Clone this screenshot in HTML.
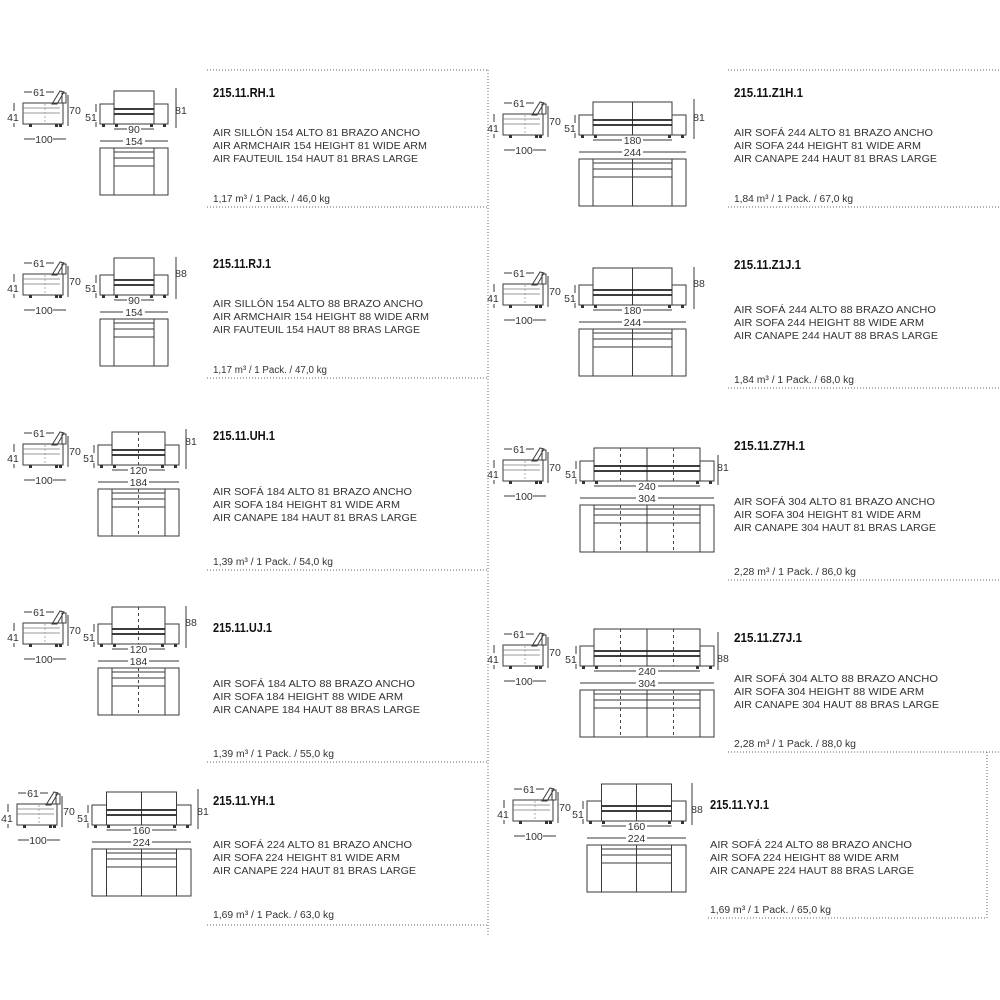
<!DOCTYPE html>
<html><head><meta charset="utf-8"><style>
html,body{margin:0;padding:0;background:#fff}
svg{display:block}
.l{stroke:#3a3a3a;stroke-width:1;fill:none}
.b{stroke:#222;stroke-width:1.7}
.d{stroke:#666;stroke-width:1;stroke-dasharray:1 2;fill:none}
.ds{stroke:#444;stroke-width:1;stroke-dasharray:3 3}
.n{font-family:"Liberation Sans",sans-serif;font-size:10.5px;fill:#333;text-anchor:middle}
.t{font-family:"Liberation Sans",sans-serif;font-size:13px;font-weight:bold;fill:#111}
.x{font-family:"Liberation Sans",sans-serif;font-size:10.5px;fill:#333}
.w{font-family:"Liberation Sans",sans-serif;font-size:10px;fill:#333}
.f{fill:#333}
</style></head><body>
<svg width="1000" height="1000" viewBox="0 0 1000 1000" xmlns="http://www.w3.org/2000/svg">
<defs>
<g id="sv">
<rect class="l" x="23" y="11" width="40" height="21"/>
<line x1="23" y1="16" x2="60" y2="16" stroke="#777" stroke-width="0.8"/>
<line x1="23" y1="21" x2="60" y2="21" stroke="#777" stroke-width="0.8"/>
<line x1="45" y1="12" x2="45" y2="31" stroke="#999" stroke-width="0.8" stroke-dasharray="2 2"/>
<polygon class="l" points="52,12 60,-1 64,0 57,12"/>
<rect class="l" x="62" y="1" width="4" height="10"/>
<rect class="f" x="29" y="32" width="3" height="3"/>
<rect class="f" x="55" y="32" width="3" height="3"/>
<rect class="f" x="59" y="32" width="3" height="3"/>
<line class="l" x1="24" y1="0" x2="32" y2="0"/><line class="l" x1="46" y1="0" x2="54" y2="0"/>
<line class="l" x1="14" y1="11" x2="14" y2="19"/><line class="l" x1="14" y1="31" x2="14" y2="35"/>
<line class="l" x1="68" y1="3" x2="68" y2="34"/>
<line class="l" x1="24" y1="47" x2="35" y2="47"/><line class="l" x1="53" y1="47" x2="66" y2="47"/>
</g>
</defs>

<!-- dotted frame lines -->
<line class="d" x1="207" y1="70" x2="488" y2="70"/>
<line class="d" x1="488" y1="70" x2="488" y2="935"/>
<line class="d" x1="207" y1="207" x2="488" y2="207"/>
<line class="d" x1="207" y1="378" x2="488" y2="378"/>
<line class="d" x1="207" y1="570" x2="488" y2="570"/>
<line class="d" x1="207" y1="762" x2="488" y2="762"/>
<line class="d" x1="207" y1="925" x2="488" y2="925"/>
<line class="d" x1="728" y1="70" x2="1000" y2="70"/>
<line class="d" x1="728" y1="207" x2="1000" y2="207"/>
<line class="d" x1="728" y1="388" x2="1000" y2="388"/>
<line class="d" x1="728" y1="580" x2="1000" y2="580"/>
<line class="d" x1="728" y1="752" x2="1000" y2="752"/>
<line class="d" x1="987" y1="752" x2="987" y2="918"/>
<line class="d" x1="708" y1="918" x2="987" y2="918"/>

<!-- ===== RH ===== -->
<g transform="translate(0,92)">
<use href="#sv"/>
<text class="n" x="39" y="4">61</text><text class="n" x="13" y="29">41</text><text class="n" x="75" y="22">70</text><text class="n" x="44" y="51">100</text>
<rect class="l" x="100" y="12" width="14" height="20"/><rect class="l" x="154" y="12" width="14" height="20"/>
<rect class="l" x="114" y="-1" width="40" height="33"/>
<line class="b" x1="114" y1="17" x2="154" y2="17"/><line class="b" x1="114" y1="22" x2="154" y2="22"/>
<rect class="f" x="102" y="32" width="3" height="3"/><rect class="f" x="115" y="32" width="3" height="3"/><rect class="f" x="150" y="32" width="3" height="3"/><rect class="f" x="163" y="32" width="3" height="3"/>
<line class="l" x1="96" y1="12" x2="96" y2="20"/><line class="l" x1="96" y1="30" x2="96" y2="35"/><text class="n" x="91" y="29">51</text>
<line class="l" x1="176" y1="-4" x2="176" y2="36"/><text class="n" x="181" y="22">81</text>
<line class="l" x1="114" y1="37" x2="127" y2="37"/><line class="l" x1="141" y1="37" x2="154" y2="37"/><text class="n" x="134" y="41">90</text>
<line class="l" x1="100" y1="49" x2="123" y2="49"/><line class="l" x1="145" y1="49" x2="168" y2="49"/><text class="n" x="134" y="53">154</text>
<rect class="l" x="100" y="56" width="68" height="47"/>
<line class="l" x1="114" y1="56" x2="114" y2="103"/><line class="l" x1="154" y1="56" x2="154" y2="103"/>
<line class="l" x1="114" y1="60" x2="154" y2="60"/><line class="l" x1="114" y1="66" x2="154" y2="66"/><line class="l" x1="114" y1="74" x2="154" y2="74"/>
</g>
<text class="t" x="213" y="97" textLength="62" lengthAdjust="spacingAndGlyphs">215.11.RH.1</text>
<text class="x" x="213" y="136" textLength="207" lengthAdjust="spacingAndGlyphs">AIR SILLÓN 154 ALTO 81 BRAZO ANCHO</text>
<text class="x" x="213" y="149" textLength="214" lengthAdjust="spacingAndGlyphs">AIR ARMCHAIR 154 HEIGHT 81 WIDE ARM</text>
<text class="x" x="213" y="162" textLength="205" lengthAdjust="spacingAndGlyphs">AIR FAUTEUIL 154 HAUT 81 BRAS LARGE</text>
<text class="w" x="213" y="202" textLength="117" lengthAdjust="spacingAndGlyphs">1,17 m³ / 1 Pack. / 46,0 kg</text>

<!-- ===== RJ ===== -->
<g transform="translate(0,263)">
<use href="#sv"/>
<text class="n" x="39" y="4">61</text><text class="n" x="13" y="29">41</text><text class="n" x="75" y="22">70</text><text class="n" x="44" y="51">100</text>
<rect class="l" x="100" y="12" width="14" height="20"/><rect class="l" x="154" y="12" width="14" height="20"/>
<rect class="l" x="114" y="-5" width="40" height="37"/>
<line class="b" x1="114" y1="17" x2="154" y2="17"/><line class="b" x1="114" y1="22" x2="154" y2="22"/>
<rect class="f" x="102" y="32" width="3" height="3"/><rect class="f" x="115" y="32" width="3" height="3"/><rect class="f" x="150" y="32" width="3" height="3"/><rect class="f" x="163" y="32" width="3" height="3"/>
<line class="l" x1="96" y1="12" x2="96" y2="20"/><line class="l" x1="96" y1="30" x2="96" y2="35"/><text class="n" x="91" y="29">51</text>
<line class="l" x1="176" y1="-6" x2="176" y2="36"/><text class="n" x="181" y="14">88</text>
<line class="l" x1="114" y1="37" x2="127" y2="37"/><line class="l" x1="141" y1="37" x2="154" y2="37"/><text class="n" x="134" y="41">90</text>
<line class="l" x1="100" y1="49" x2="123" y2="49"/><line class="l" x1="145" y1="49" x2="168" y2="49"/><text class="n" x="134" y="53">154</text>
<rect class="l" x="100" y="56" width="68" height="47"/>
<line class="l" x1="114" y1="56" x2="114" y2="103"/><line class="l" x1="154" y1="56" x2="154" y2="103"/>
<line class="l" x1="114" y1="60" x2="154" y2="60"/><line class="l" x1="114" y1="66" x2="154" y2="66"/><line class="l" x1="114" y1="74" x2="154" y2="74"/>
</g>
<text class="t" x="213" y="268" textLength="58" lengthAdjust="spacingAndGlyphs">215.11.RJ.1</text>
<text class="x" x="213" y="307" textLength="210" lengthAdjust="spacingAndGlyphs">AIR SILLÓN 154 ALTO 88 BRAZO ANCHO</text>
<text class="x" x="213" y="320" textLength="216" lengthAdjust="spacingAndGlyphs">AIR ARMCHAIR 154 HEIGHT 88 WIDE ARM</text>
<text class="x" x="213" y="333" textLength="207" lengthAdjust="spacingAndGlyphs">AIR FAUTEUIL 154 HAUT 88 BRAS LARGE</text>
<text class="w" x="213" y="373" textLength="114" lengthAdjust="spacingAndGlyphs">1,17 m³ / 1 Pack. / 47,0 kg</text>

<!-- ===== UH ===== -->
<g transform="translate(0,433)">
<use href="#sv"/>
<text class="n" x="39" y="4">61</text><text class="n" x="13" y="29">41</text><text class="n" x="75" y="22">70</text><text class="n" x="44" y="51">100</text>
<rect class="l" x="98" y="12" width="14" height="20"/><rect class="l" x="165" y="12" width="14" height="20"/>
<rect class="l" x="112" y="-1" width="53" height="33"/>
<line class="ds" x1="138.5" y1="-1" x2="138.5" y2="32"/>
<line class="b" x1="112" y1="17" x2="165" y2="17"/><line class="b" x1="112" y1="22" x2="165" y2="22"/>
<rect class="f" x="100" y="32" width="3" height="3"/><rect class="f" x="113" y="32" width="3" height="3"/><rect class="f" x="161" y="32" width="3" height="3"/><rect class="f" x="174" y="32" width="3" height="3"/>
<line class="l" x1="94" y1="12" x2="94" y2="20"/><line class="l" x1="94" y1="30" x2="94" y2="35"/><text class="n" x="89" y="29">51</text>
<line class="l" x1="186" y1="-4" x2="186" y2="36"/><text class="n" x="191" y="12">81</text>
<line class="l" x1="112" y1="37" x2="128" y2="37"/><line class="l" x1="149" y1="37" x2="165" y2="37"/><text class="n" x="138.5" y="41">120</text>
<line class="l" x1="98" y1="49" x2="128" y2="49"/><line class="l" x1="149" y1="49" x2="179" y2="49"/><text class="n" x="138.5" y="53">184</text>
<rect class="l" x="98" y="56" width="81" height="47"/>
<line class="l" x1="112" y1="56" x2="112" y2="103"/><line class="l" x1="165" y1="56" x2="165" y2="103"/>
<line class="ds" x1="138.5" y1="56" x2="138.5" y2="103"/>
<line class="l" x1="112" y1="60" x2="165" y2="60"/><line class="l" x1="112" y1="66" x2="165" y2="66"/><line class="l" x1="112" y1="74" x2="165" y2="74"/>
</g>
<text class="t" x="213" y="440" textLength="62" lengthAdjust="spacingAndGlyphs">215.11.UH.1</text>
<text class="x" x="213" y="495" textLength="199" lengthAdjust="spacingAndGlyphs">AIR SOFÁ 184 ALTO 81 BRAZO ANCHO</text>
<text class="x" x="213" y="508" textLength="187" lengthAdjust="spacingAndGlyphs">AIR SOFA 184 HEIGHT 81 WIDE ARM</text>
<text class="x" x="213" y="521" textLength="204" lengthAdjust="spacingAndGlyphs">AIR CANAPE 184 HAUT 81 BRAS LARGE</text>
<text class="w" x="213" y="565" textLength="120" lengthAdjust="spacingAndGlyphs">1,39 m³ / 1 Pack. / 54,0 kg</text>

<!-- ===== UJ ===== -->
<g transform="translate(0,612)">
<use href="#sv"/>
<text class="n" x="39" y="4">61</text><text class="n" x="13" y="29">41</text><text class="n" x="75" y="22">70</text><text class="n" x="44" y="51">100</text>
<rect class="l" x="98" y="12" width="14" height="20"/><rect class="l" x="165" y="12" width="14" height="20"/>
<rect class="l" x="112" y="-5" width="53" height="37"/>
<line class="ds" x1="138.5" y1="-5" x2="138.5" y2="32"/>
<line class="b" x1="112" y1="17" x2="165" y2="17"/><line class="b" x1="112" y1="22" x2="165" y2="22"/>
<rect class="f" x="100" y="32" width="3" height="3"/><rect class="f" x="113" y="32" width="3" height="3"/><rect class="f" x="161" y="32" width="3" height="3"/><rect class="f" x="174" y="32" width="3" height="3"/>
<line class="l" x1="94" y1="12" x2="94" y2="20"/><line class="l" x1="94" y1="30" x2="94" y2="35"/><text class="n" x="89" y="29">51</text>
<line class="l" x1="186" y1="-6" x2="186" y2="36"/><text class="n" x="191" y="14">88</text>
<line class="l" x1="112" y1="37" x2="128" y2="37"/><line class="l" x1="149" y1="37" x2="165" y2="37"/><text class="n" x="138.5" y="41">120</text>
<line class="l" x1="98" y1="49" x2="128" y2="49"/><line class="l" x1="149" y1="49" x2="179" y2="49"/><text class="n" x="138.5" y="53">184</text>
<rect class="l" x="98" y="56" width="81" height="47"/>
<line class="l" x1="112" y1="56" x2="112" y2="103"/><line class="l" x1="165" y1="56" x2="165" y2="103"/>
<line class="ds" x1="138.5" y1="56" x2="138.5" y2="103"/>
<line class="l" x1="112" y1="60" x2="165" y2="60"/><line class="l" x1="112" y1="66" x2="165" y2="66"/><line class="l" x1="112" y1="74" x2="165" y2="74"/>
</g>
<text class="t" x="213" y="632" textLength="59" lengthAdjust="spacingAndGlyphs">215.11.UJ.1</text>
<text class="x" x="213" y="687" textLength="202" lengthAdjust="spacingAndGlyphs">AIR SOFÁ 184 ALTO 88 BRAZO ANCHO</text>
<text class="x" x="213" y="700" textLength="190" lengthAdjust="spacingAndGlyphs">AIR SOFA 184 HEIGHT 88 WIDE ARM</text>
<text class="x" x="213" y="713" textLength="207" lengthAdjust="spacingAndGlyphs">AIR CANAPE 184 HAUT 88 BRAS LARGE</text>
<text class="w" x="213" y="757" textLength="121" lengthAdjust="spacingAndGlyphs">1,39 m³ / 1 Pack. / 55,0 kg</text>

<!-- ===== YH ===== -->
<g transform="translate(0,793)">
<use href="#sv" x="-6"/>
<text class="n" x="33" y="4">61</text><text class="n" x="7" y="29">41</text><text class="n" x="69" y="22">70</text><text class="n" x="38" y="51">100</text>
<rect class="l" x="92" y="12" width="14.5" height="20"/><rect class="l" x="176.5" y="12" width="14.5" height="20"/>
<rect class="l" x="106.5" y="-1" width="70" height="33"/>
<line class="l" x1="141.5" y1="-1" x2="141.5" y2="32"/>
<line class="b" x1="106.5" y1="17" x2="176.5" y2="17"/><line class="b" x1="106.5" y1="22" x2="176.5" y2="22"/>
<rect class="f" x="94" y="32" width="3" height="3"/><rect class="f" x="107" y="32" width="3" height="3"/><rect class="f" x="173" y="32" width="3" height="3"/><rect class="f" x="186" y="32" width="3" height="3"/>
<line class="l" x1="88" y1="12" x2="88" y2="20"/><line class="l" x1="88" y1="30" x2="88" y2="35"/><text class="n" x="83" y="29">51</text>
<line class="l" x1="198" y1="-4" x2="198" y2="36"/><text class="n" x="203" y="22">81</text>
<line class="l" x1="106.5" y1="37" x2="131" y2="37"/><line class="l" x1="152" y1="37" x2="176.5" y2="37"/><text class="n" x="141.5" y="41">160</text>
<line class="l" x1="92" y1="49" x2="131" y2="49"/><line class="l" x1="152" y1="49" x2="191" y2="49"/><text class="n" x="141.5" y="53">224</text>
<rect class="l" x="92" y="56" width="99" height="47"/>
<line class="l" x1="106.5" y1="56" x2="106.5" y2="103"/><line class="l" x1="176.5" y1="56" x2="176.5" y2="103"/>
<line class="l" x1="141.5" y1="56" x2="141.5" y2="103"/>
<line class="l" x1="106.5" y1="60" x2="176.5" y2="60"/><line class="l" x1="106.5" y1="66" x2="176.5" y2="66"/><line class="l" x1="106.5" y1="74" x2="176.5" y2="74"/>
</g>
<text class="t" x="213" y="805" textLength="62" lengthAdjust="spacingAndGlyphs">215.11.YH.1</text>
<text class="x" x="213" y="848" textLength="199" lengthAdjust="spacingAndGlyphs">AIR SOFÁ 224 ALTO 81 BRAZO ANCHO</text>
<text class="x" x="213" y="861" textLength="187" lengthAdjust="spacingAndGlyphs">AIR SOFA 224 HEIGHT 81 WIDE ARM</text>
<text class="x" x="213" y="874" textLength="203" lengthAdjust="spacingAndGlyphs">AIR CANAPE 224 HAUT 81 BRAS LARGE</text>
<text class="w" x="213" y="918" textLength="121" lengthAdjust="spacingAndGlyphs">1,69 m³ / 1 Pack. / 63,0 kg</text>

<!-- ===== Z1H ===== -->
<g transform="translate(480,103)">
<use href="#sv"/>
<text class="n" x="39" y="4">61</text><text class="n" x="13" y="29">41</text><text class="n" x="75" y="22">70</text><text class="n" x="44" y="51">100</text>
<rect class="l" x="99" y="12" width="14" height="20"/><rect class="l" x="192" y="12" width="14" height="20"/>
<rect class="l" x="113" y="-1" width="79" height="33"/>
<line class="l" x1="152.5" y1="-1" x2="152.5" y2="32"/>
<line class="b" x1="113" y1="17" x2="192" y2="17"/><line class="b" x1="113" y1="22" x2="192" y2="22"/>
<rect class="f" x="101" y="32" width="3" height="3"/><rect class="f" x="114" y="32" width="3" height="3"/><rect class="f" x="188" y="32" width="3" height="3"/><rect class="f" x="201" y="32" width="3" height="3"/>
<line class="l" x1="95" y1="12" x2="95" y2="20"/><line class="l" x1="95" y1="30" x2="95" y2="35"/><text class="n" x="90" y="29">51</text>
<line class="l" x1="214" y1="-4" x2="214" y2="36"/><text class="n" x="219" y="18">81</text>
<line class="l" x1="113" y1="37" x2="142" y2="37"/><line class="l" x1="163" y1="37" x2="192" y2="37"/><text class="n" x="152.5" y="41">180</text>
<line class="l" x1="99" y1="49" x2="142" y2="49"/><line class="l" x1="163" y1="49" x2="206" y2="49"/><text class="n" x="152.5" y="53">244</text>
<rect class="l" x="99" y="56" width="107" height="47"/>
<line class="l" x1="113" y1="56" x2="113" y2="103"/><line class="l" x1="192" y1="56" x2="192" y2="103"/>
<line class="l" x1="152.5" y1="56" x2="152.5" y2="103"/>
<line class="l" x1="113" y1="60" x2="192" y2="60"/><line class="l" x1="113" y1="66" x2="192" y2="66"/><line class="l" x1="113" y1="74" x2="192" y2="74"/>
</g>
<text class="t" x="734" y="97" textLength="69" lengthAdjust="spacingAndGlyphs">215.11.Z1H.1</text>
<text class="x" x="734" y="136" textLength="199" lengthAdjust="spacingAndGlyphs">AIR SOFÁ 244 ALTO 81 BRAZO ANCHO</text>
<text class="x" x="734" y="149" textLength="187" lengthAdjust="spacingAndGlyphs">AIR SOFA 244 HEIGHT 81 WIDE ARM</text>
<text class="x" x="734" y="162" textLength="203" lengthAdjust="spacingAndGlyphs">AIR CANAPE 244 HAUT 81 BRAS LARGE</text>
<text class="w" x="734" y="202" textLength="119" lengthAdjust="spacingAndGlyphs">1,84 m³ / 1 Pack. / 67,0 kg</text>

<!-- ===== Z1J ===== -->
<g transform="translate(480,273)">
<use href="#sv"/>
<text class="n" x="39" y="4">61</text><text class="n" x="13" y="29">41</text><text class="n" x="75" y="22">70</text><text class="n" x="44" y="51">100</text>
<rect class="l" x="99" y="12" width="14" height="20"/><rect class="l" x="192" y="12" width="14" height="20"/>
<rect class="l" x="113" y="-5" width="79" height="37"/>
<line class="l" x1="152.5" y1="-5" x2="152.5" y2="32"/>
<line class="b" x1="113" y1="17" x2="192" y2="17"/><line class="b" x1="113" y1="22" x2="192" y2="22"/>
<rect class="f" x="101" y="32" width="3" height="3"/><rect class="f" x="114" y="32" width="3" height="3"/><rect class="f" x="188" y="32" width="3" height="3"/><rect class="f" x="201" y="32" width="3" height="3"/>
<line class="l" x1="95" y1="12" x2="95" y2="20"/><line class="l" x1="95" y1="30" x2="95" y2="35"/><text class="n" x="90" y="29">51</text>
<line class="l" x1="214" y1="-6" x2="214" y2="36"/><text class="n" x="219" y="14">88</text>
<line class="l" x1="113" y1="37" x2="142" y2="37"/><line class="l" x1="163" y1="37" x2="192" y2="37"/><text class="n" x="152.5" y="41">180</text>
<line class="l" x1="99" y1="49" x2="142" y2="49"/><line class="l" x1="163" y1="49" x2="206" y2="49"/><text class="n" x="152.5" y="53">244</text>
<rect class="l" x="99" y="56" width="107" height="47"/>
<line class="l" x1="113" y1="56" x2="113" y2="103"/><line class="l" x1="192" y1="56" x2="192" y2="103"/>
<line class="l" x1="152.5" y1="56" x2="152.5" y2="103"/>
<line class="l" x1="113" y1="60" x2="192" y2="60"/><line class="l" x1="113" y1="66" x2="192" y2="66"/><line class="l" x1="113" y1="74" x2="192" y2="74"/>
</g>
<text class="t" x="734" y="269" textLength="67" lengthAdjust="spacingAndGlyphs">215.11.Z1J.1</text>
<text class="x" x="734" y="313" textLength="202" lengthAdjust="spacingAndGlyphs">AIR SOFÁ 244 ALTO 88 BRAZO ANCHO</text>
<text class="x" x="734" y="326" textLength="190" lengthAdjust="spacingAndGlyphs">AIR SOFA 244 HEIGHT 88 WIDE ARM</text>
<text class="x" x="734" y="339" textLength="204" lengthAdjust="spacingAndGlyphs">AIR CANAPE 244 HAUT 88 BRAS LARGE</text>
<text class="w" x="734" y="383" textLength="120" lengthAdjust="spacingAndGlyphs">1,84 m³ / 1 Pack. / 68,0 kg</text>

<!-- ===== Z7H ===== -->
<g transform="translate(480,449)">
<use href="#sv"/>
<text class="n" x="39" y="4">61</text><text class="n" x="13" y="29">41</text><text class="n" x="75" y="22">70</text><text class="n" x="44" y="51">100</text>
<rect class="l" x="100" y="12" width="14" height="20"/><rect class="l" x="220" y="12" width="14" height="20"/>
<rect class="l" x="114" y="-1" width="106" height="33"/>
<line class="l" x1="167" y1="-1" x2="167" y2="32"/>
<line class="ds" x1="140.5" y1="-1" x2="140.5" y2="32"/><line class="ds" x1="193.5" y1="-1" x2="193.5" y2="32"/>
<line class="b" x1="114" y1="17" x2="220" y2="17"/><line class="b" x1="114" y1="22" x2="220" y2="22"/>
<rect class="f" x="102" y="32" width="3" height="3"/><rect class="f" x="115" y="32" width="3" height="3"/><rect class="f" x="216" y="32" width="3" height="3"/><rect class="f" x="229" y="32" width="3" height="3"/>
<line class="l" x1="96" y1="12" x2="96" y2="20"/><line class="l" x1="96" y1="30" x2="96" y2="35"/><text class="n" x="91" y="29">51</text>
<line class="l" x1="238" y1="6" x2="238" y2="36"/><text class="n" x="243" y="22">81</text>
<line class="l" x1="114" y1="37" x2="156" y2="37"/><line class="l" x1="178" y1="37" x2="220" y2="37"/><text class="n" x="167" y="41">240</text>
<line class="l" x1="100" y1="49" x2="156" y2="49"/><line class="l" x1="178" y1="49" x2="234" y2="49"/><text class="n" x="167" y="53">304</text>
<rect class="l" x="100" y="56" width="134" height="47"/>
<line class="l" x1="114" y1="56" x2="114" y2="103"/><line class="l" x1="220" y1="56" x2="220" y2="103"/>
<line class="l" x1="167" y1="56" x2="167" y2="103"/>
<line class="ds" x1="140.5" y1="56" x2="140.5" y2="103"/><line class="ds" x1="193.5" y1="56" x2="193.5" y2="103"/>
<line class="l" x1="114" y1="60" x2="220" y2="60"/><line class="l" x1="114" y1="66" x2="220" y2="66"/><line class="l" x1="114" y1="74" x2="220" y2="74"/>
</g>
<text class="t" x="734" y="450" textLength="71" lengthAdjust="spacingAndGlyphs">215.11.Z7H.1</text>
<text class="x" x="734" y="505" textLength="201" lengthAdjust="spacingAndGlyphs">AIR SOFÁ 304 ALTO 81 BRAZO ANCHO</text>
<text class="x" x="734" y="518" textLength="187" lengthAdjust="spacingAndGlyphs">AIR SOFA 304 HEIGHT 81 WIDE ARM</text>
<text class="x" x="734" y="531" textLength="202" lengthAdjust="spacingAndGlyphs">AIR CANAPE 304 HAUT 81 BRAS LARGE</text>
<text class="w" x="734" y="575" textLength="122" lengthAdjust="spacingAndGlyphs">2,28 m³ / 1 Pack. / 86,0 kg</text>

<!-- ===== Z7J ===== -->
<g transform="translate(480,634)">
<use href="#sv"/>
<text class="n" x="39" y="4">61</text><text class="n" x="13" y="29">41</text><text class="n" x="75" y="22">70</text><text class="n" x="44" y="51">100</text>
<rect class="l" x="100" y="12" width="14" height="20"/><rect class="l" x="220" y="12" width="14" height="20"/>
<rect class="l" x="114" y="-5" width="106" height="37"/>
<line class="l" x1="167" y1="-5" x2="167" y2="32"/>
<line class="ds" x1="140.5" y1="-5" x2="140.5" y2="32"/><line class="ds" x1="193.5" y1="-5" x2="193.5" y2="32"/>
<line class="b" x1="114" y1="17" x2="220" y2="17"/><line class="b" x1="114" y1="22" x2="220" y2="22"/>
<rect class="f" x="102" y="32" width="3" height="3"/><rect class="f" x="115" y="32" width="3" height="3"/><rect class="f" x="216" y="32" width="3" height="3"/><rect class="f" x="229" y="32" width="3" height="3"/>
<line class="l" x1="96" y1="12" x2="96" y2="20"/><line class="l" x1="96" y1="30" x2="96" y2="35"/><text class="n" x="91" y="29">51</text>
<line class="l" x1="238" y1="-2" x2="238" y2="36"/><text class="n" x="243" y="28">88</text>
<line class="l" x1="114" y1="37" x2="156" y2="37"/><line class="l" x1="178" y1="37" x2="220" y2="37"/><text class="n" x="167" y="41">240</text>
<line class="l" x1="100" y1="49" x2="156" y2="49"/><line class="l" x1="178" y1="49" x2="234" y2="49"/><text class="n" x="167" y="53">304</text>
<rect class="l" x="100" y="56" width="134" height="47"/>
<line class="l" x1="114" y1="56" x2="114" y2="103"/><line class="l" x1="220" y1="56" x2="220" y2="103"/>
<line class="l" x1="167" y1="56" x2="167" y2="103"/>
<line class="ds" x1="140.5" y1="56" x2="140.5" y2="103"/><line class="ds" x1="193.5" y1="56" x2="193.5" y2="103"/>
<line class="l" x1="114" y1="60" x2="220" y2="60"/><line class="l" x1="114" y1="66" x2="220" y2="66"/><line class="l" x1="114" y1="74" x2="220" y2="74"/>
</g>
<text class="t" x="734" y="642" textLength="68" lengthAdjust="spacingAndGlyphs">215.11.Z7J.1</text>
<text class="x" x="734" y="682" textLength="204" lengthAdjust="spacingAndGlyphs">AIR SOFÁ 304 ALTO 88 BRAZO ANCHO</text>
<text class="x" x="734" y="695" textLength="190" lengthAdjust="spacingAndGlyphs">AIR SOFA 304 HEIGHT 88 WIDE ARM</text>
<text class="x" x="734" y="708" textLength="205" lengthAdjust="spacingAndGlyphs">AIR CANAPE 304 HAUT 88 BRAS LARGE</text>
<text class="w" x="734" y="747" textLength="122" lengthAdjust="spacingAndGlyphs">2,28 m³ / 1 Pack. / 88,0 kg</text>

<!-- ===== YJ ===== -->
<g transform="translate(480,789)">
<use href="#sv" x="10"/>
<text class="n" x="49" y="4">61</text><text class="n" x="23" y="29">41</text><text class="n" x="85" y="22">70</text><text class="n" x="54" y="51">100</text>
<rect class="l" x="107" y="12" width="14.5" height="20"/><rect class="l" x="191.5" y="12" width="14.5" height="20"/>
<rect class="l" x="121.5" y="-5" width="70" height="37"/>
<line class="l" x1="156.5" y1="-5" x2="156.5" y2="32"/>
<line class="b" x1="121.5" y1="17" x2="191.5" y2="17"/><line class="b" x1="121.5" y1="22" x2="191.5" y2="22"/>
<rect class="f" x="109" y="32" width="3" height="3"/><rect class="f" x="122" y="32" width="3" height="3"/><rect class="f" x="188" y="32" width="3" height="3"/><rect class="f" x="201" y="32" width="3" height="3"/>
<line class="l" x1="103" y1="12" x2="103" y2="20"/><line class="l" x1="103" y1="30" x2="103" y2="35"/><text class="n" x="98" y="29">51</text>
<line class="l" x1="212" y1="-6" x2="212" y2="36"/><text class="n" x="217" y="24">88</text>
<line class="l" x1="121.5" y1="37" x2="146" y2="37"/><line class="l" x1="167" y1="37" x2="191.5" y2="37"/><text class="n" x="156.5" y="41">160</text>
<line class="l" x1="107" y1="49" x2="146" y2="49"/><line class="l" x1="167" y1="49" x2="206" y2="49"/><text class="n" x="156.5" y="53">224</text>
<rect class="l" x="107" y="56" width="99" height="47"/>
<line class="l" x1="121.5" y1="56" x2="121.5" y2="103"/><line class="l" x1="191.5" y1="56" x2="191.5" y2="103"/>
<line class="l" x1="156.5" y1="56" x2="156.5" y2="103"/>
<line class="l" x1="121.5" y1="60" x2="191.5" y2="60"/><line class="l" x1="121.5" y1="66" x2="191.5" y2="66"/><line class="l" x1="121.5" y1="74" x2="191.5" y2="74"/>
</g>
<text class="t" x="710" y="809" textLength="59" lengthAdjust="spacingAndGlyphs">215.11.YJ.1</text>
<text class="x" x="710" y="848" textLength="202" lengthAdjust="spacingAndGlyphs">AIR SOFÁ 224 ALTO 88 BRAZO ANCHO</text>
<text class="x" x="710" y="861" textLength="189" lengthAdjust="spacingAndGlyphs">AIR SOFA 224 HEIGHT 88 WIDE ARM</text>
<text class="x" x="710" y="874" textLength="204" lengthAdjust="spacingAndGlyphs">AIR CANAPE 224 HAUT 88 BRAS LARGE</text>
<text class="w" x="710" y="913" textLength="121" lengthAdjust="spacingAndGlyphs">1,69 m³ / 1 Pack. / 65,0 kg</text>
</svg>
</body></html>
